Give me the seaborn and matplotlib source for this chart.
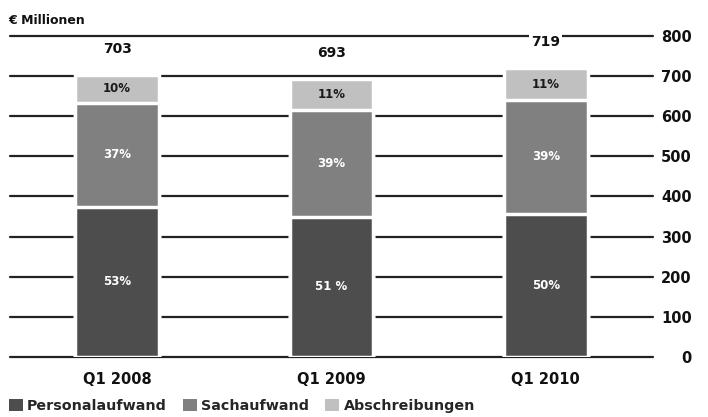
import matplotlib
matplotlib.use("Agg")
import matplotlib.pyplot as plt
from matplotlib.patches import Patch
import seaborn as sns
import numpy as np

quarters = ["Q1 2008", "Q1 2009", "Q1 2010"]
personal = [374, 349, 357]
sach = [259, 267, 284]
absch = [70, 77, 78]
totals = [703, 693, 719]
pct_personal = ["53%", "51 %", "50%"]
pct_sach = ["37%", "39%", "39%"]
pct_absch = ["10%", "11%", "11%"]
series_names = ["Personalaufwand", "Sachaufwand", "Abschreibungen"]
colors = ["#4d4d4d", "#808080", "#c0c0c0"]

sns.set_style("white")
plt.rcParams["font.family"] = ["DejaVu Sans"]

fig = plt.figure(figsize=(7.08, 4.17), dpi=100)
ax = fig.add_axes([0.0141, 0.1439, 0.9082, 0.7698])

p = np.array(personal)
s = np.array(sach)
a = np.array(absch)
# stacked by overplotting cumulative sums
for vals, col in [(p + s + a, colors[2]), (p + s, colors[1]), (p, colors[0])]:
    sns.barplot(x=quarters, y=vals, color=col, saturation=1, width=0.39,
                edgecolor="white", linewidth=2.5, ax=ax, zorder=3)

ax.set_ylim(0, 800)
ax.set_xlim(-0.5, 2.5)
ax.set_yticks(range(0, 801, 100))
ax.yaxis.tick_right()
ax.yaxis.grid(True, color="#222222", lw=1.6)
ax.xaxis.grid(False)
ax.set_axisbelow(True)
for gl in ax.yaxis.get_gridlines():
    gl.set_clip_on(False)
for sp in ax.spines.values():
    sp.set_visible(False)
ax.tick_params(axis="y", length=0, pad=28, labelsize=10.5, labelcolor="#111111")
for lab in ax.get_yticklabels():
    lab.set_horizontalalignment("right")
    lab.set_fontweight("bold")
ax.tick_params(axis="x", length=0, pad=11, labelsize=10.5, labelcolor="#111111")
for lab in ax.get_xticklabels():
    lab.set_fontweight("bold")
ax.set_xlabel("")
ax.set_ylabel("")

for i in range(len(quarters)):
    ax.text(i, p[i] / 2, pct_personal[i], ha="center", va="center",
            color="white", fontsize=8.5, fontweight="bold", zorder=5)
    ax.text(i, p[i] + s[i] / 2, pct_sach[i], ha="center", va="center",
            color="white", fontsize=8.5, fontweight="bold", zorder=5)
    ax.text(i, p[i] + s[i] + a[i] / 2, pct_absch[i], ha="center", va="center",
            color="#1a1a1a", fontsize=8.5, fontweight="bold", zorder=5)
    ax.annotate(str(totals[i]), (i, totals[i]), xytext=(0, 19),
                textcoords="offset points", ha="center", va="center",
                fontsize=10, fontweight="bold", color="#111111", zorder=6,
                bbox=dict(boxstyle="square,pad=0.15", fc="white", ec="none"))

fig.text(0.011, 0.952, "€ Millionen", fontsize=9, fontweight="bold",
         ha="left", va="center", color="#111111")

handles = [Patch(facecolor=c, edgecolor="none") for c in colors]
fig.legend(handles, series_names, loc="lower left", bbox_to_anchor=(0.004, -0.004),
           ncol=3, frameon=False, handlelength=1.0, handleheight=1.0,
           handletextpad=0.3, columnspacing=1.1, borderaxespad=0,
           prop={"weight": "bold", "size": 10.3})

fig.savefig("out.png", dpi=100)
